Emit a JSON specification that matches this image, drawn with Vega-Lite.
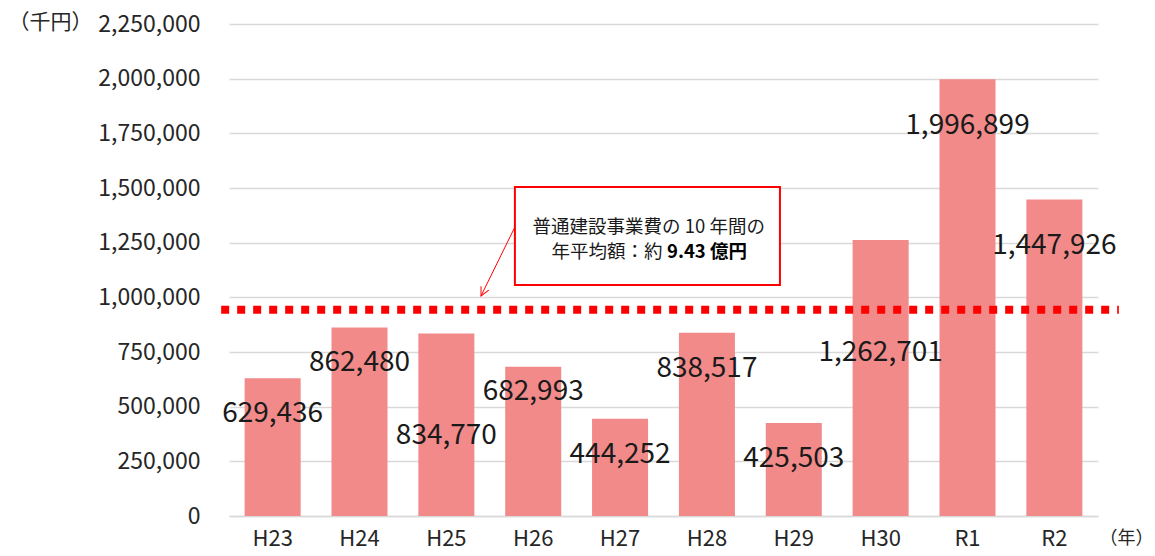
{
  "$schema": "https://vega.github.io/schema/vega-lite/v6.json",
  "autosize": {"type": "none"},
  "width": 869,
  "height": 492,
  "padding": {"left": 229, "top": 24, "right": 57, "bottom": 40},
  "background": "white",
  "config": {
    "font": "Noto Sans CJK JP",
    "view": {"stroke": null}
  },
  "data": {
    "values": [
      {"year": "H23", "value": 629436},
      {"year": "H24", "value": 862480},
      {"year": "H25", "value": 834770},
      {"year": "H26", "value": 682993},
      {"year": "H27", "value": 444252},
      {"year": "H28", "value": 838517},
      {"year": "H29", "value": 425503},
      {"year": "H30", "value": 1262701},
      {"year": "R1", "value": 1996899},
      {"year": "R2", "value": 1447926}
    ]
  },
  "layer": [
    {
      "encoding": {
        "x": {
          "field": "year", "type": "nominal", "sort": null,
          "scale": {"paddingInner": 0.355, "paddingOuter": 0.18},
          "axis": {
            "title": "（年）", "titleAngle": 0, "titleX": 870, "titleY": 22,
            "titleAlign": "left", "titleBaseline": "middle", "titleFontSize": 18,
            "titleFontWeight": "normal", "titleColor": "#262626", "titleFont": "Noto Sans CJK JP",
            "labelAngle": 0, "labelFontSize": 22, "labelColor": "#262626", "labelPadding": 12,
            "ticks": false, "domainColor": "#d9d9d9", "domainWidth": 1.5, "grid": false
          }
        },
        "y": {
          "field": "value", "type": "quantitative",
          "scale": {"domain": [0, 2250000], "nice": false},
          "axis": {
            "title": "（千円）", "titleAngle": 0, "titleX": -221, "titleY": -2,
            "titleAlign": "left", "titleBaseline": "middle", "titleFontSize": 21,
            "titleFontWeight": "normal", "titleColor": "#262626", "titleFont": "Noto Sans CJK JP",
            "values": [0, 250000, 500000, 750000, 1000000, 1250000, 1500000, 1750000, 2000000, 2250000],
            "format": ",d", "labelFontSize": 23, "labelColor": "#262626", "labelPadding": 29,
            "ticks": false, "domain": false, "gridColor": "#d9d9d9", "gridWidth": 1.5
          }
        }
      },
      "layer": [
        {"mark": {"type": "bar", "color": "#f28a8a"}},
        {
          "transform": [{"filter": "indexof(['H23','H24','H27','H28','H29'], datum.year) >= 0"}],
          "mark": {"type": "text", "fontSize": 28, "dy": 36, "baseline": "middle", "align": "center", "color": "#1a1a1a"},
          "encoding": {"text": {"field": "value", "type": "quantitative", "format": ","}}
        },
        {
          "transform": [{"filter": "datum.year === 'H25'"}],
          "mark": {"type": "text", "fontSize": 28, "dy": 103, "baseline": "middle", "align": "center", "color": "#1a1a1a"},
          "encoding": {"text": {"field": "value", "type": "quantitative", "format": ","}}
        },
        {
          "transform": [{"filter": "datum.year === 'H26'"}],
          "mark": {"type": "text", "fontSize": 28, "dy": 25, "baseline": "middle", "align": "center", "color": "#1a1a1a"},
          "encoding": {"text": {"field": "value", "type": "quantitative", "format": ","}}
        },
        {
          "transform": [{"filter": "datum.year === 'H30'"}],
          "mark": {"type": "text", "fontSize": 28, "dy": 113, "baseline": "middle", "align": "center", "color": "#1a1a1a"},
          "encoding": {"text": {"field": "value", "type": "quantitative", "format": ","}}
        },
        {
          "transform": [{"filter": "datum.year === 'R1' || datum.year === 'R2'"}],
          "mark": {"type": "text", "fontSize": 28, "dy": 47, "baseline": "middle", "align": "center", "color": "#1a1a1a"},
          "encoding": {"text": {"field": "value", "type": "quantitative", "format": ","}}
        }
      ]
    },
    {
      "data": {"values": [{}]},
      "layer": [
        {
          "mark": {"type": "rule", "color": "#ff0000", "strokeWidth": 8, "strokeDash": [8, 8], "strokeCap": "butt"},
          "encoding": {
            "x": {"datum": -0.09, "type": "quantitative", "scale": {"domain": [0, 10], "nice": false, "zero": false}, "axis": null},
            "x2": {"datum": 10.24},
            "y": {"datum": 943000, "type": "quantitative"}
          }
        },
        {
          "mark": {"type": "rect", "fill": "white", "stroke": "#ff0000", "strokeWidth": 2},
          "encoding": {
            "x": {"datum": 3.29, "type": "quantitative", "scale": {"domain": [0, 10], "nice": false, "zero": false}, "axis": null},
            "x2": {"datum": 6.34},
            "y": {"datum": 1504573, "type": "quantitative"},
            "y2": {"datum": 1056402}
          }
        },
        {
          "mark": {"type": "text", "fontSize": 18.5, "align": "center", "baseline": "middle", "color": "#1a1a1a", "text": "普通建設事業費の 10 年間の"},
          "encoding": {
            "x": {"datum": 4.83, "type": "quantitative", "scale": {"domain": [0, 10], "nice": false, "zero": false}, "axis": null},
            "y": {"datum": 1321646, "type": "quantitative"}
          }
        },
        {
          "mark": {"type": "text", "fontSize": 18.5, "align": "right", "baseline": "middle", "color": "#1a1a1a", "text": "年平均額：約"},
          "encoding": {
            "x": {"datum": 4.99, "type": "quantitative", "scale": {"domain": [0, 10], "nice": false, "zero": false}, "axis": null},
            "y": {"datum": 1207317, "type": "quantitative"}
          }
        },
        {
          "mark": {"type": "text", "fontSize": 18.5, "fontWeight": "bold", "align": "left", "baseline": "middle", "color": "#000000", "text": "9.43 億円"},
          "encoding": {
            "x": {"datum": 5.04, "type": "quantitative", "scale": {"domain": [0, 10], "nice": false, "zero": false}, "axis": null},
            "y": {"datum": 1207317, "type": "quantitative"}
          }
        },
        {
          "mark": {"type": "rule", "color": "#ff0000", "strokeWidth": 1},
          "encoding": {
            "x": {"datum": 3.29, "type": "quantitative", "scale": {"domain": [0, 10], "nice": false, "zero": false}, "axis": null},
            "x2": {"datum": 2.9},
            "y": {"datum": 1321646, "type": "quantitative"},
            "y2": {"datum": 1006098}
          }
        },
        {
          "mark": {"type": "point", "shape": "M -0.5 1 L 0 0 L 0.5 1", "filled": false, "stroke": "#ff0000", "strokeWidth": 1, "size": 300, "angle": 206.6, "opacity": 1},
          "encoding": {
            "x": {"datum": 2.9, "type": "quantitative", "scale": {"domain": [0, 10], "nice": false, "zero": false}, "axis": null},
            "y": {"datum": 1006098, "type": "quantitative"}
          }
        }
      ]
    }
  ],
  "resolve": {"scale": {"x": "independent"}}
}
